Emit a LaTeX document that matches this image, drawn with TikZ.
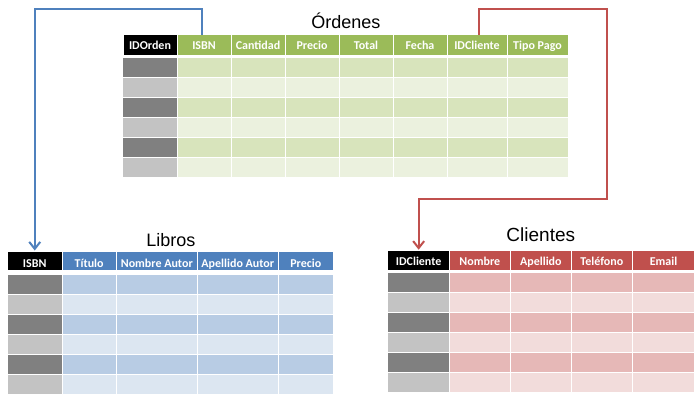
\documentclass[tikz,border=0pt]{standalone}
\usepackage{fontspec}
\usetikzlibrary{arrows.meta,calc}
\newfontfamily\calib{Carlito}
\newfontfamily\arialf{Liberation Sans}
\definecolor{grnH}{HTML}{9BBB59}
\definecolor{grnD}{HTML}{D8E4BC}
\definecolor{grnL}{HTML}{EBF1DE}
\definecolor{bluH}{HTML}{4F81BD}
\definecolor{bluD}{HTML}{B8CCE4}
\definecolor{bluL}{HTML}{DCE6F1}
\definecolor{redH}{HTML}{C0504D}
\definecolor{redD}{HTML}{E6B8B7}
\definecolor{redL}{HTML}{F2DCDB}
\definecolor{gryD}{HTML}{808080}
\definecolor{gryL}{HTML}{C3C3C3}
\begin{document}
\begin{tikzpicture}[x=1pt,y=-1pt,
  cell/.style={inner sep=0pt,outer sep=0pt,anchor=north west,minimum height=19pt},
  hdr/.style={cell,minimum height=20pt,text=white,text depth=0pt,font=\calib\bfseries\fontsize{12}{13}\selectfont},
  ohdr/.style={hdr,fill=grnH,text height=9.3pt},
  lhdr/.style={hdr,fill=bluH,minimum height=18.5pt,text height=12.7pt},
  chdr/.style={hdr,fill=redH,minimum height=19.3pt,text height=11.1pt},
  ttl/.style={anchor=base,inner sep=0pt,font=\arialf\fontsize{18}{20}\selectfont},
  link/.style={line width=2pt,-{Straight Barb[length=7pt,width=11pt,line width=2pt]}}]
\useasboundingbox[fill=white] (0,0) rectangle (700,404);

% ---------- Órdenes ----------
\node[ttl] (tO) at (345.8,28.3) {Órdenes};
\node[ohdr,fill=black,minimum width=53pt] (oID) at (123.5,35) {IDOrden};
\node[ohdr,minimum width=53pt] (oISBN) at (177.5,35) {ISBN};
\node[ohdr,minimum width=53pt] (oCant) at (231.5,35) {Cantidad};
\node[ohdr,minimum width=53pt] (oPrec) at (285.5,35) {Precio};
\node[ohdr,minimum width=53pt] (oTot) at (339.5,35) {Total};
\node[ohdr,minimum width=53pt] (oFech) at (393.5,35) {Fecha};
\node[ohdr,minimum width=59pt] (oIDC) at (447.5,35) {IDCliente};
\node[ohdr,minimum width=60pt] (oTipo) at (507.5,35) {Tipo Pago};
\foreach \k in {0,...,5}{
  \ifodd\k \def\gc{gryL}\def\tc{grnL}\else \def\gc{gryD}\def\tc{grnD}\fi
  \node[cell,fill=\gc,minimum width=54pt] (o0-\k) at (123,58+20*\k) {};
  \foreach \l/\w [count=\c] in {177.5/53,231.5/53,285.5/53,339.5/53,393.5/53,447.5/59,507.5/60}{
    \node[cell,fill=\tc,minimum width=\w pt] (o\c-\k) at (\l,58+20*\k) {};
  }
}

% ---------- Libros ----------
\node[ttl] (tL) at (170.8,246.7) {Libros};
\node[lhdr,fill=black,minimum width=53.5pt] (lISBN) at (8,251.5) {ISBN};
\node[lhdr,minimum width=53.3pt] (lTit) at (62.5,251.5) {Título};
\node[lhdr,minimum width=80pt] (lNom) at (116.8,251.5) {Nombre Autor};
\node[lhdr,minimum width=80pt] (lApe) at (197.8,251.5) {Apellido Autor};
\node[lhdr,minimum width=54pt] (lPre) at (278.8,251.5) {Precio};
\foreach \k in {0,...,5}{
  \ifodd\k \def\gc{gryL}\def\tc{bluL}\else \def\gc{gryD}\def\tc{bluD}\fi
  \node[cell,fill=\gc,minimum width=53.5pt] (l0-\k) at (8,275+20*\k) {};
  \foreach \l/\w [count=\c] in {62.5/53.3,116.8/80,197.8/80,278.8/54}{
    \node[cell,fill=\tc,minimum width=\w pt] (l\c-\k) at (\l,275+20*\k) {};
  }
}

% ---------- Clientes ----------
\node[ttl,font=\arialf\fontsize{19}{21}\selectfont] (tC) at (540.8,241.7) {Clientes};
\node[chdr,fill=black,minimum width=61.3pt] (cIDC) at (388,250.7) {IDCliente};
\node[chdr,minimum width=59.7pt] (cNom) at (450,250.7) {Nombre};
\node[chdr,minimum width=59.7pt] (cApe) at (511,250.7) {Apellido};
\node[chdr,minimum width=59.7pt] (cTel) at (572,250.7) {Teléfono};
\node[chdr,minimum width=61pt] (cEma) at (633,250.7) {Email};
\foreach \k in {0,...,5}{
  \ifodd\k \def\gc{gryL}\def\tc{redL}\else \def\gc{gryD}\def\tc{redD}\fi
  \node[cell,fill=\gc,minimum width=61.3pt,minimum height=19.3pt] (c0-\k) at (388,272.7+20*\k) {};
  \foreach \l/\w [count=\c] in {450/59.7,511/59.7,572/59.7,633/61}{
    \node[cell,fill=\tc,minimum width=\w pt,minimum height=19.3pt] (c\c-\k) at (\l,272.7+20*\k) {};
  }
}

% ---------- connectors ----------
\coordinate (rc1) at (607.3,9);
\coordinate (rc2) at (607.3,199);
\draw[link,draw=bluH] ([xshift=-2.5pt]oISBN.north) -- ++(0,-26) -| ([yshift=1pt]lISBN.north);
\draw[link,draw=redH] ([xshift=1.5pt]oIDC.north) |- (rc1) -- (rc2) -| ([yshift=1pt]cIDC.north);
\end{tikzpicture}
\end{document}
